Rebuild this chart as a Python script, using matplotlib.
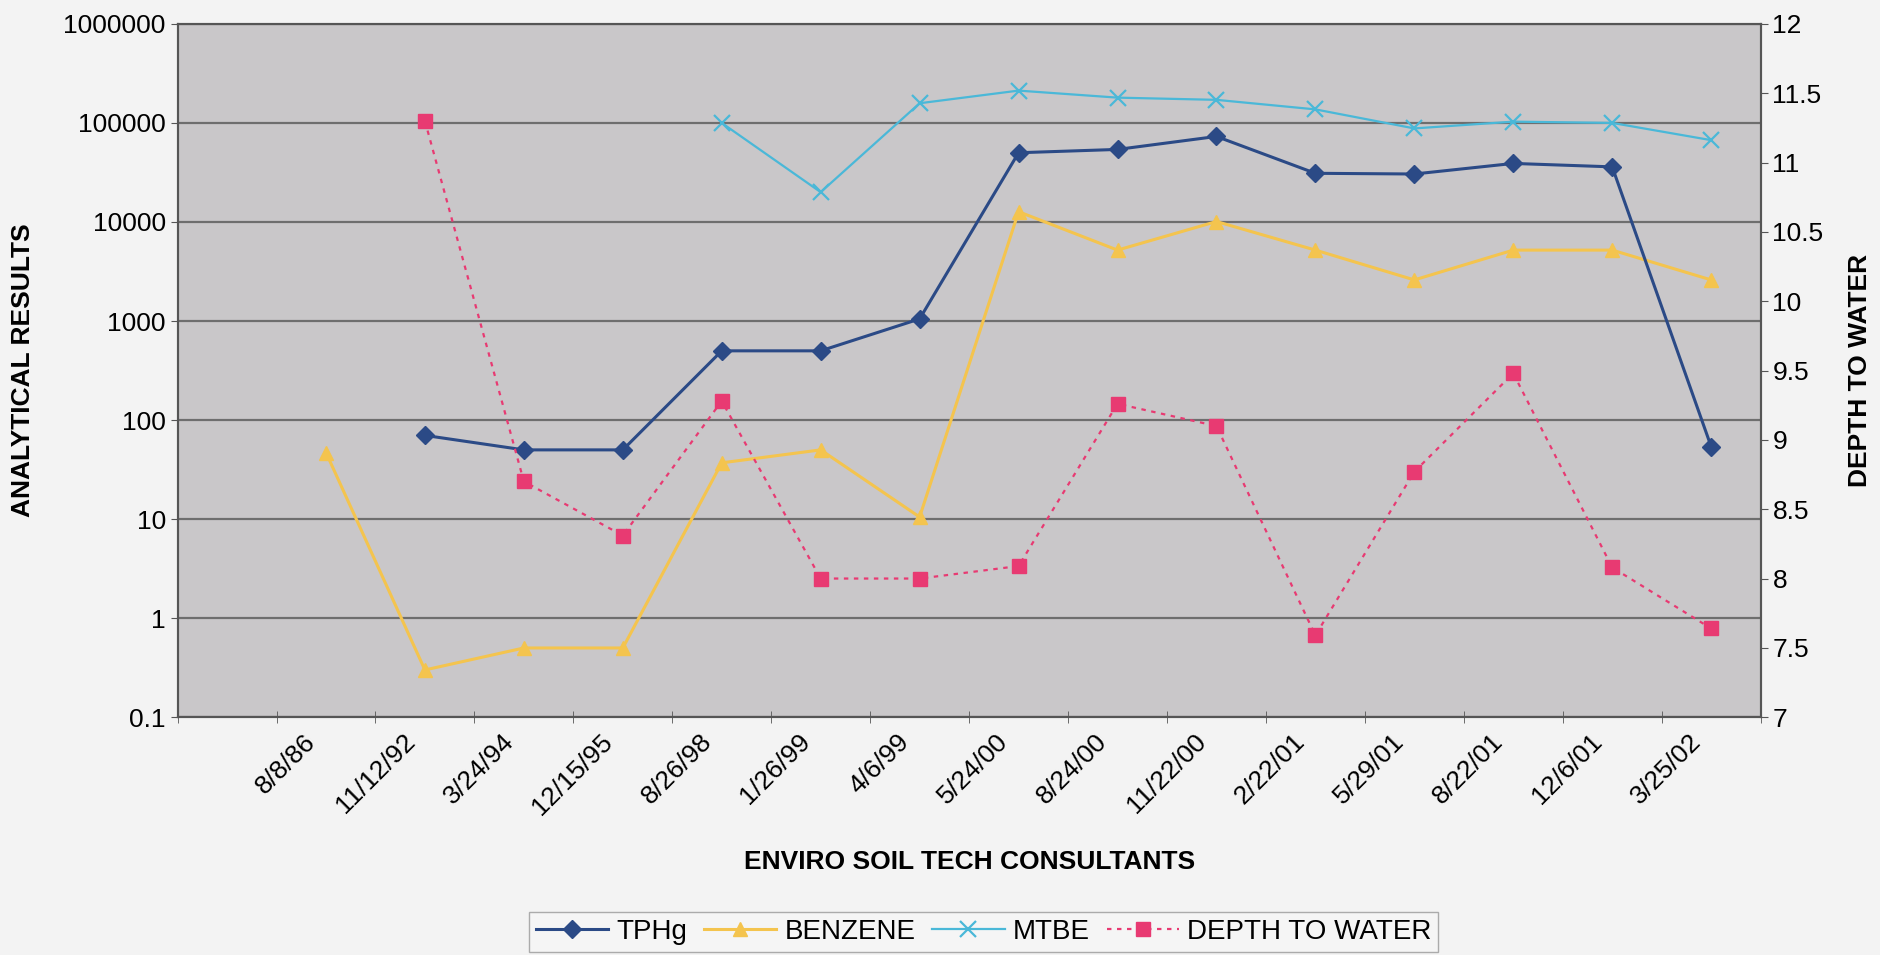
import numpy as np
import matplotlib
matplotlib.use('Agg')
import matplotlib.pyplot as plt
import matplotlib.transforms as mtransforms

plt.rcParams['font.family'] = ['Liberation Sans', 'DejaVu Sans']

nan = np.nan
# sampling dates (first category has no label)
dates = ['', '8/8/86', '11/12/92', '3/24/94', '12/15/95', '8/26/98', '1/26/99', '4/6/99',
         '5/24/00', '8/24/00', '11/22/00', '2/22/01', '5/29/01', '8/22/01', '12/6/01', '3/25/02']
tphg = [nan, nan, 70, 50, 50, 500, 500, 1050, 50000, 54000, 73000, 31000, 30500, 39000, 36000, 54]
benzene = [nan, 47, 0.3, 0.5, 0.5, 37, 50, 10.5, 12700, 5200, 10100, 5200, 2600, 5200, 5200, 2600]
mtbe = [nan, nan, nan, nan, nan, 100000, 20000, 158000, 212000, 180000, 171000, 137000,
        88000, 103000, 100000, 67000]
depth = [nan, nan, 11.3, 8.7, 8.31, 9.28, 8.0, 8.0, 8.09, 9.26, 9.1, 7.59, 8.77, 9.48, 8.08, 7.64]

x = np.arange(len(dates))

fig = plt.figure(figsize=(18.81, 9.55), dpi=100, facecolor='#f3f3f3')
ax = fig.add_axes([0.0944, 0.249, 0.8416, 0.726])
ax.set_facecolor('#c9c7c9')

ax.plot(x, tphg, color='#2b4a86', lw=2.2, marker='D', ms=9, label='TPHg', zorder=4)
ax.plot(x, benzene, color='#f4c44e', lw=2.2, marker='^', ms=10, label='BENZENE', zorder=3)
ax.plot(x, mtbe, color='#4ab8d8', lw=1.6, marker='x', ms=11, mew=1.6, label='MTBE', zorder=3)

ax.set_yscale('log')
ax.set_ylim(0.1, 1e6)
yt = [0.1, 1, 10, 100, 1000, 10000, 100000, 1000000]
ax.set_yticks(yt)
ax.set_yticklabels(['0.1', '1', '10', '100', '1000', '10000', '100000', '1000000'])
ax.minorticks_off()
ax.yaxis.grid(True, which='major', color='#6e6e6e', lw=1.6)
ax.set_axisbelow(True)

ax.set_xlim(-0.5, len(dates) - 0.5)
ax.set_xticks(x)
ax.set_xticklabels(dates, rotation=45, ha='right', va='center', rotation_mode='anchor')
ax.set_xticks(np.arange(len(dates) + 1) - 0.5, minor=True)
ax.tick_params(axis='x', which='major', length=0, pad=15, labelsize=19)
ax.tick_params(axis='x', which='minor', length=8, direction='inout', color='#555555')
ax.tick_params(axis='y', labelsize=19, length=5, color='#555555')
offset = mtransforms.ScaledTranslation(-0.14, 0, fig.dpi_scale_trans)
for lab in ax.get_xticklabels():
    lab.set_transform(lab.get_transform() + offset)

for s in ax.spines.values():
    s.set_color('#555555')
    s.set_linewidth(1.5)

ax.set_xlabel('ENVIRO SOIL TECH CONSULTANTS', fontsize=19, fontweight='bold')
ax.xaxis.set_label_coords(0.5, -0.192)
ax.set_ylabel('ANALYTICAL RESULTS', fontsize=19, fontweight='bold')
ax.yaxis.set_label_coords(-0.09, 0.5)

ax2 = ax.twinx()
ax2.plot(x, depth, color='#e83a72', lw=1.6, ls=(0, (2, 2.5)), marker='s', ms=10,
         label='DEPTH TO WATER', zorder=5)
ax2.set_ylim(7, 12)
ax2.set_yticks(np.arange(7, 12.01, 0.5))
ax2.set_yticklabels(['7', '7.5', '8', '8.5', '9', '9.5', '10', '10.5', '11', '11.5', '12'])
ax2.tick_params(axis='y', labelsize=19, length=5, color='#555555')
ax2.set_ylabel('DEPTH TO WATER', fontsize=19, fontweight='bold')
ax2.yaxis.set_label_coords(1.055, 0.5)
for s in ax2.spines.values():
    s.set_color('#555555')
    s.set_linewidth(1.5)

h1, l1 = ax.get_legend_handles_labels()
h2, l2 = ax2.get_legend_handles_labels()
leg = fig.legend(h1 + h2, l1 + l2, loc='center', bbox_to_anchor=(0.523, 0.024), ncol=4,
                 fontsize=20, frameon=True, fancybox=False, edgecolor='#999999',
                 facecolor='#f6f6f6', handlelength=2.6, columnspacing=0.6, handletextpad=0.3,
                 borderpad=0.25)

plt.savefig('out.png', dpi=100, facecolor=fig.get_facecolor())
